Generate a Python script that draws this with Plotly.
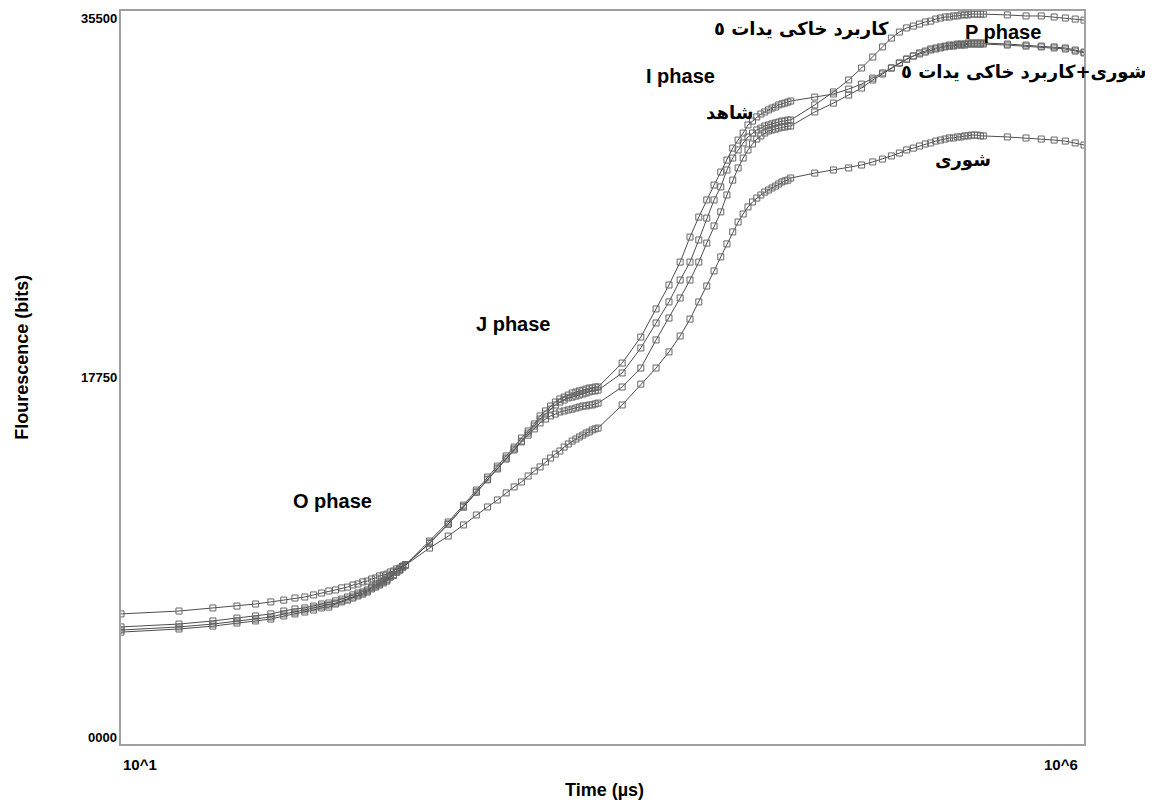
import plotly.graph_objects as go

# Time grid (µs) of the OJIP transient
TIME_US = [
    10, 20, 30, 40, 50, 60, 70, 80, 90, 100, 110, 120, 130, 140, 150, 160, 170, 180, 190, 200,
    210, 220, 230, 240, 250, 260, 270, 280, 290, 300,
    400, 500, 600, 700, 800, 900, 1000, 1100, 1200, 1300, 1400, 1500, 1600, 1700, 1800, 1900, 2000,
    2100, 2200, 2300, 2400, 2500, 2600, 2700, 2800, 2900, 3000,
    4000, 5000, 6000, 7000, 8000, 9000, 10000, 11000, 12000, 13000, 14000, 15000, 16000, 17000,
    18000, 19000, 20000, 21000, 22000, 23000, 24000, 25000, 26000, 27000, 28000, 29000, 30000,
    40000, 50000, 60000, 70000, 80000, 90000, 100000, 110000, 120000, 130000, 140000, 150000,
    160000, 170000, 180000, 190000, 200000, 210000, 220000, 230000, 240000, 250000, 260000,
    270000, 280000, 290000, 300000,
    400000, 500000, 600000, 700000, 800000, 900000, 1000000,
]

CONTROL = [  # شاهد
    5670, 5810, 5960, 6100, 6200, 6300, 6440, 6540, 6590, 6680, 6780, 6830, 6930, 7020, 7120,
    7220, 7310, 7360, 7460, 7600, 7700, 7800, 7890, 7990, 8140, 8180, 8330, 8430, 8570, 8670,
    9830, 10750, 11570, 12300, 12930, 13460, 13950, 14380, 14820, 15160, 15500, 15890, 16130,
    16370, 16560, 16710, 16800, 16900, 17000, 17050, 17100, 17140, 17190, 17240, 17240, 17290, 17290,
    18450, 19710, 21070, 22230, 23340, 24550, 25520, 26350, 27070, 27700, 28280, 28860, 29250,
    29590, 29980, 30170, 30370, 30510, 30610, 30710, 30800, 30850, 30950, 31000, 31040, 31090, 31140,
    31330, 31480, 31720, 31960, 32250, 32500, 32740, 32980, 33170, 33320, 33470, 33560, 33660,
    33710, 33760, 33800, 33850, 33850, 33900, 33900, 33900, 33950, 33950, 33950, 33950, 33950, 33950,
    33900, 33850, 33800, 33760, 33710, 33610, 33510,
]

IODATE = [  # کاربرد خاکی یدات ٥
    5420, 5570, 5710, 5860, 5960, 6050, 6200, 6300, 6390, 6490, 6590, 6630, 6780, 6880, 6970,
    7070, 7170, 7260, 7360, 7510, 7600, 7700, 7800, 7890, 8090, 8180, 8330, 8430, 8570, 8670,
    9730, 10650, 11480, 12200, 12830, 13370, 13850, 14290, 14670, 15060, 15400, 15740, 15980,
    16220, 16420, 16560, 16660, 16760, 16800, 16850, 16900, 16950, 17000, 17050, 17100, 17100, 17140,
    17970, 19180, 20390, 21410, 22470, 23340, 24410, 25470, 26350, 26980, 27800, 28380, 28770,
    29110, 29400, 29590, 29740, 29830, 29930, 29980, 30030, 30080, 30120, 30170, 30170, 30220, 30220,
    30950, 31580, 32160, 32740, 33270, 33760, 34190, 34480, 34680, 34770, 34870, 34970, 35010,
    35110, 35160, 35210, 35210, 35260, 35260, 35310, 35310, 35310, 35350, 35350, 35350, 35350, 35350,
    35310, 35260, 35260, 35210, 35160, 35110, 35060,
]

SALT_IODATE = [  # شوری+کاربرد خاکی یدات ٥
    5520, 5670, 5810, 5960, 6050, 6150, 6300, 6390, 6490, 6590, 6680, 6730, 6830, 6930, 7020,
    7120, 7220, 7310, 7410, 7560, 7650, 7750, 7850, 7940, 8090, 8180, 8330, 8430, 8570, 8670,
    9730, 10650, 11480, 12200, 12790, 13320, 13800, 14240, 14630, 14960, 15260, 15550, 15740,
    15890, 15980, 16080, 16130, 16180, 16220, 16270, 16320, 16370, 16370, 16420, 16420, 16470, 16510,
    17290, 18210, 19570, 20630, 21600, 22470, 23340, 24260, 25090, 25770, 26590, 27310, 27900,
    28380, 28770, 29060, 29300, 29450, 29590, 29690, 29740, 29780, 29830, 29880, 29880, 29930, 29930,
    30610, 31040, 31430, 31770, 32160, 32450, 32740, 32980, 33170, 33320, 33420, 33510, 33610,
    33660, 33710, 33760, 33800, 33800, 33850, 33850, 33850, 33900, 33900, 33900, 33900, 33900, 33900,
    33850, 33800, 33760, 33710, 33660, 33560, 33470,
]

SALT = [  # شوری
    6300, 6440, 6590, 6680, 6780, 6880, 6970, 7070, 7120, 7220, 7310, 7410, 7460, 7560, 7600,
    7700, 7750, 7850, 7890, 7990, 8040, 8140, 8180, 8230, 8330, 8380, 8480, 8520, 8620, 8670,
    9490, 10070, 10610, 11090, 11480, 11820, 12160, 12450, 12690, 12980, 13220, 13420, 13660,
    13850, 14040, 14190, 14380, 14530, 14670, 14770, 14870, 14960, 15060, 15110, 15210, 15260, 15300,
    16420, 17430, 18210, 18990, 19760, 20580, 21410, 22180, 22910, 23590, 24220, 24800, 25280,
    25670, 26010, 26250, 26440, 26590, 26730, 26830, 26930, 27020, 27120, 27220, 27270, 27310, 27410,
    27650, 27800, 27900, 28040, 28190, 28330, 28480, 28620, 28770, 28860, 28960, 29060, 29110,
    29200, 29250, 29300, 29350, 29350, 29400, 29400, 29450, 29450, 29490, 29490, 29490, 29450, 29450,
    29400, 29350, 29300, 29250, 29200, 29110, 29010,
]

SERIES = [
    ("شاهد", CONTROL),
    ("کاربرد خاکی یدات ٥", IODATE),
    ("شوری+کاربرد خاکی یدات ٥", SALT_IODATE),
    ("شوری", SALT),
]

Y_TICKS = [0, 17750, 35500]
Y_TICK_TEXT = ["0000", "17750", "35500"]

fig = go.Figure()
for name, vals in SERIES:
    fig.add_trace(go.Scatter(
        x=TIME_US, y=vals, name=name, mode="lines+markers",
        line=dict(color="#4d4d4d", width=1),
        marker=dict(symbol="square-open", size=6, color="#666666", line=dict(width=1)),
        showlegend=False,
    ))

LAT = "Liberation Sans, Arial, sans-serif"
FA = "DejaVu Sans, sans-serif"

annotations = []
def ann(text, x, y, size, family=LAT, xanchor="center", yanchor="middle", angle=0,
        xref="paper", yref="paper", xshift=0, yshift=0):
    annotations.append(dict(text=text, x=x, y=y, xref=xref, yref=yref, showarrow=False,
                            xanchor=xanchor, yanchor=yanchor, textangle=angle,
                            xshift=xshift, yshift=yshift,
                            font=dict(family=family, size=size, color="#000000", weight="bold")))

# phase labels
ann("O phase", 0.220, 0.332, 20)
ann("J phase", 0.407, 0.573, 20)
ann("I phase", 0.5815, 0.911, 20)
ann("P phase", 0.916, 0.971, 20)
# treatment labels
ann("کاربرد خاکی یدات ٥", 0.7065, 0.975, 18, FA)
ann("شوری+کاربرد خاکی یدات ٥", 1.0665, 0.917, 18, FA, xanchor="right")
ann("شاهد", 0.632, 0.861, 18, FA)
ann("شوری", 0.874, 0.797, 18, FA)
# y tick labels (top one sits just inside the frame, as in the reference)
Y_SHIFTS = [7, 0, -7]
for v, t, s in zip(Y_TICKS, Y_TICK_TEXT, Y_SHIFTS):
    ann(t, 0, v, 13, xanchor="right", xref="paper", yref="y", xshift=-2, yshift=s)
# x axis end labels
ann("10^1", 0.0, -0.0286, 15, xanchor="left")
ann("10^6", 0.996, -0.0286, 15, xanchor="right")
# axis titles
ann("Time (µs)", 0.5016, -0.0628, 18)
ann("Flourescence (bits)", -0.1028, 0.527, 18, angle=-90)

# the page adds an 8px body margin, so the figure is 8px smaller on each axis
fig.update_layout(
    width=1145, height=792,
    margin=dict(l=113, r=69, t=3, b=56),
    paper_bgcolor="white", plot_bgcolor="white",
    annotations=annotations,
    xaxis=dict(type="log", range=[1, 6], showgrid=False, zeroline=False,
               showticklabels=False, ticks="", automargin=False,
               showline=True, mirror=True, linecolor="#a0a0a0", linewidth=2),
    yaxis=dict(range=[0, 35500], showgrid=False, zeroline=False, automargin=False,
               tickvals=Y_TICKS, showticklabels=False, ticks="",
               showline=True, mirror=True, linecolor="#a0a0a0", linewidth=2),
)

fig.write_html("out.html")
